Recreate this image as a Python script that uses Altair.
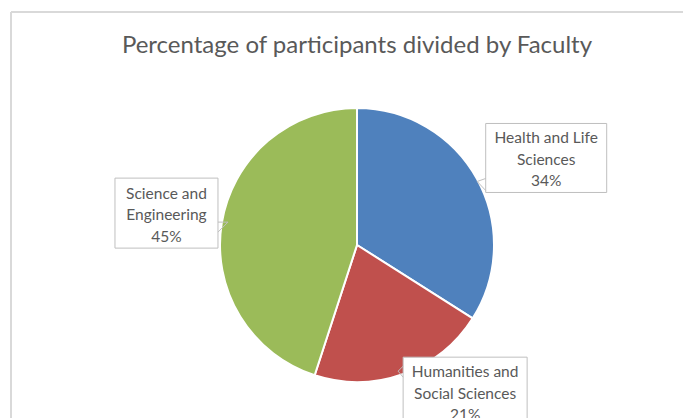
import math
import altair as alt
import pandas as pd

# ---- data ----
categories = ["Health and Life Sciences", "Humanities and Social Sciences", "Science and Engineering"]
label_lines = ["Health and Life\nSciences", "Humanities and\nSocial Sciences", "Science and\nEngineering"]
values = [34, 21, 45]
title_text = "Percentage of participants divided by Faculty"

# ---- style / layout ----
colors = ["#4F81BD", "#C0504D", "#9BBB59"]
PAD_L, PAD_T = 3, 4
W, H = 672, 406          # plot area
CX, CY = 346, 233        # pie centre inside plot area, px
R = 137                  # pie radius, px
FONT = "Lato"
TEXT_COLOR = "#595959"
BOX_STROKE = "#BFBFBF"
LINE_H = 21.5
# callout placement: radius (in pie radii), angle shift (deg), half width px, half height px
label_layout = {
    "Health and Life Sciences": (1.52, 4.1, 60.5, 34.5),
    "Humanities and Social Sciences": (1.33, -16.6, 62.0, 34.5),
    "Science and Engineering": (1.41, 0.5, 51.5, 35.0),
}
# callout pointer: side (-1 left edge, +1 right edge), base y offsets (px, down), tip (dx, dy) from edge
pointer_layout = {
    "Health and Life Sciences": (-1, 20.5, 32.5, (-8.5, 23.5)),
    "Humanities and Social Sciences": (-1, -25.5, -14.5, (-5.0, -20.5)),
    "Science and Engineering": (1, 9.0, 19.0, (10.0, 9.0)),
}

# ---- build tables ----
total = sum(values)
rows, prow = [], []
start = 0.0
for i, (cat, lines, v) in enumerate(zip(categories, label_lines, values)):
    mid = (start + v / 2) / total * 360
    start += v
    r, shift, hw, hh = label_layout[cat]
    a = math.radians(mid + shift)
    cx, cy = r * math.sin(a), r * math.cos(a)
    rows.append({
        "category": cat,
        "value": v,
        "idx": i,
        "text": f"{lines}\n{round(v / total * 100)}%",
        "lx": cx, "ly": cy,
        "bx0": cx - hw / R, "bx1": cx + hw / R,
        "by0": cy - hh / R, "by1": cy + hh / R,
    })
    side, b1, b2, (tdx, tdy) = pointer_layout[cat]
    ex = cx + side * hw / R
    pts = [(ex, cy - b1 / R), (ex + tdx / R, cy - tdy / R), (ex, cy - b2 / R)]
    for k, (px, py) in enumerate(pts):
        prow.append({"category": cat, "seq": k, "px": px, "py": py})
df = pd.DataFrame(rows)
dp = pd.DataFrame(prow)

xs = alt.Scale(domain=[-CX / R, (W - CX) / R], nice=False, zero=False)
ys = alt.Scale(domain=[-(H - CY) / R, CY / R], nice=False, zero=False)

base = alt.Chart(df)

pie = base.mark_arc(outerRadius=R, stroke="white", strokeWidth=2).encode(
    theta=alt.Theta("value:Q", stack=True),
    color=alt.Color("category:N", scale=alt.Scale(domain=categories, range=colors), legend=None),
    order=alt.Order("idx:Q"),
    x=alt.XDatum(0, scale=xs, axis=None),
    y=alt.YDatum(0, scale=ys, axis=None),
)

boxes = base.mark_rect(fill="white", stroke=BOX_STROKE, strokeWidth=1).encode(
    x=alt.X("bx0:Q", scale=xs, axis=None),
    x2="bx1:Q",
    y=alt.Y("by0:Q", scale=ys, axis=None),
    y2="by1:Q",
)

pointers = alt.Chart(dp).mark_line(color=BOX_STROKE, strokeWidth=1).encode(
    x=alt.X("px:Q", scale=xs, axis=None),
    y=alt.Y("py:Q", scale=ys, axis=None),
    detail="category:N",
    order="seq:Q",
)

texts = base.mark_text(
    font=FONT, fontSize=15.5, color=TEXT_COLOR, lineBreak="\n", lineHeight=LINE_H,
    baseline="middle", align="center", dy=-LINE_H + 2,
).encode(
    x=alt.X("lx:Q", scale=xs, axis=None),
    y=alt.Y("ly:Q", scale=ys, axis=None),
    text="text:N",
)

title = alt.Chart(pd.DataFrame({"t": [title_text]})).mark_text(
    font=FONT, fontSize=24, color=TEXT_COLOR, baseline="alphabetic", align="center",
).encode(
    x=alt.value(CX),
    y=alt.value(40.5),
    text="t:N",
)

border_top = alt.Chart(pd.DataFrame({"k": [0]})).mark_rule(color="#D9D9D9", strokeWidth=2).encode(
    x=alt.value(0), x2=alt.value(W), y=alt.value(0),
)
border_left = alt.Chart(pd.DataFrame({"k": [0]})).mark_rule(color="#D9D9D9", strokeWidth=2).encode(
    x=alt.value(0), y=alt.value(0), y2=alt.value(H),
)

chart = alt.layer(border_top, border_left, pie, boxes, pointers, texts, title).properties(
    width=W, height=H,
    padding={"left": PAD_L, "top": PAD_T, "right": 0, "bottom": 0},
    autosize=alt.AutoSizeParams(type="none"),
    background="white",
).configure_view(stroke=None)

chart.save("out.html", embed_options={"renderer": "svg", "actions": False})
